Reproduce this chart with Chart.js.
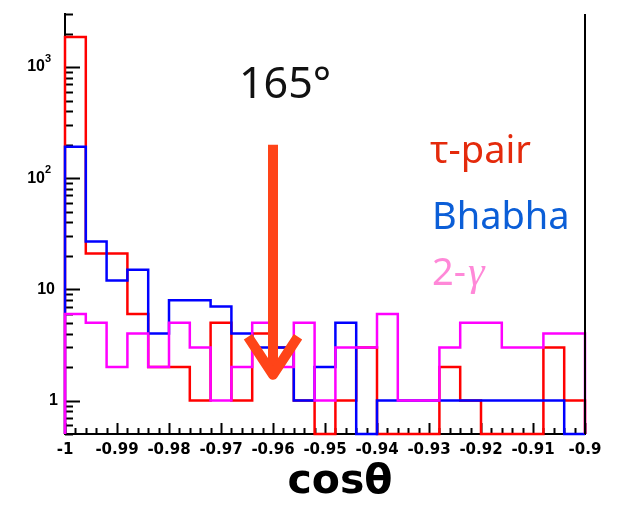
<!DOCTYPE html>
<html>
<head>
<meta charset="utf-8">
<title>cos theta</title>
<script src="https://cdn.jsdelivr.net/npm/chart.js@4.4.0/dist/chart.umd.min.js"></script>
<style>
  body { margin: 0; background: #fff; }
  #wrap { width: 629px; height: 505px; position: relative; }
</style>
</head>
<body>
<div id="wrap"><canvas id="grafik"></canvas></div>
<script>
// bin edges in cos(theta): 25 bins, 0.004 wide
const binEdges = [-1, -0.996, -0.992, -0.988, -0.984, -0.98, -0.976, -0.972, -0.968, -0.964,
  -0.96, -0.956, -0.952, -0.948, -0.944, -0.94, -0.936, -0.932, -0.928, -0.924,
  -0.92, -0.916, -0.912, -0.908, -0.904, -0.9];

// entries per bin
const tauPair  = [1860, 21, 21, 6, 2, 2, 1, 5, 1, 4, 3, 1, 0, 1, 3, 0, 0, 0, 2, 1, 0, 0, 0, 3, 1];
const bhabha   = [192, 27, 12, 15, 4, 8, 8, 7, 4, 3, 3, 1, 2, 5, 0, 1, 1, 1, 1, 1, 1, 1, 1, 1, 0];
const twoGamma = [6, 5, 2, 4, 2, 5, 3, 1, 2, 5, 2, 5, 1, 3, 3, 6, 1, 1, 3, 5, 5, 3, 3, 4, 4];

const xTicks = [-1, -0.99, -0.98, -0.97, -0.96, -0.95, -0.94, -0.93, -0.92, -0.91, -0.9];
const yTicks = [1, 10, 100, 1000];
const yTickBase = ['1', '10', '10', '10'];
const yTickExp = ['', '', '2', '3'];

const Y_MIN = 0.5;
const Y_MAX = 3000;

// cut position marked by the arrow
const cutX = -0.96;
const arrowTop = 200;
const arrowTip = 1.6;

// empty bins sit on the bottom of the log axis
function histPoints(counts) {
  const pts = [{ x: binEdges[0], y: Y_MIN }];
  counts.forEach((c, i) => pts.push({ x: binEdges[i], y: c > 0 ? c : Y_MIN }));
  pts.push({ x: binEdges[binEdges.length - 1], y: Y_MIN });
  return pts;
}

function garis(ctx, x1, y1, x2, y2) {
  ctx.beginPath();
  ctx.moveTo(x1, y1);
  ctx.lineTo(x2, y2);
  ctx.stroke();
}

const hiasan = {
  id: 'hiasan',
  beforeDatasetsDraw(chart) {
    const { ctx, chartArea: a, scales: { x, y } } = chart;
    ctx.save();
    ctx.strokeStyle = '#000';
    ctx.lineWidth = 2;
    // x ticks pointing into the frame
    for (let k = 0; k <= 50; k++) {
      const v = -1 + k * 0.002;
      const px = Math.round(x.getPixelForValue(v)) + 0.5;
      const len = k % 5 === 0 ? 11 : 6;
      garis(ctx, px, a.bottom, px, a.bottom - len);
    }
    // y ticks, log decades
    [0.1, 1, 10, 100, 1000].forEach(d => {
      for (let m = 1; m <= 9; m++) {
        const v = m * d;
        if (v < Y_MIN || v > Y_MAX) continue;
        const py = Math.round(y.getPixelForValue(v)) + 0.5;
        garis(ctx, a.left, py, a.left + (m === 1 ? 15 : 8), py);
      }
    });

    // y labels with exponents, right aligned
    ctx.fillStyle = '#000';
    ctx.textBaseline = 'middle';
    ctx.textAlign = 'right';
    yTicks.forEach((v, i) => {
      const py = y.getPixelForValue(v);
      if (yTickExp[i]) {
        ctx.font = 'bold 11px "Liberation Sans"';
        ctx.fillText(yTickExp[i], a.left - 14, py - 8);
        ctx.font = 'bold 16px "Liberation Sans"';
        ctx.fillText(yTickBase[i], a.left - 20, py);
      } else {
        ctx.font = 'bold 16px "Liberation Sans"';
        ctx.fillText(yTickBase[i], a.left - (v === 1 ? 7 : 10), py);
      }
    });

    // axis title
    ctx.textAlign = 'center';
    ctx.textBaseline = 'alphabetic';
    ctx.font = 'bold 41px "DejaVu Sans"';
    ctx.fillText('cosθ', 340, 493);
    ctx.restore();
  },
  afterDatasetsDraw(chart) {
    const { ctx, chartArea: a, scales: { x, y } } = chart;
    ctx.save();
    // right side of the frame
    ctx.strokeStyle = '#000';
    ctx.lineWidth = 2;
    garis(ctx, a.right, a.top, a.right, a.bottom);

    // arrow at the cut
    const ax = x.getPixelForValue(cutX);
    const top = y.getPixelForValue(arrowTop);
    const tip = y.getPixelForValue(arrowTip);
    ctx.strokeStyle = '#ff4418';
    ctx.lineWidth = 10;
    ctx.lineCap = 'butt';
    garis(ctx, ax, top, ax, tip - 8);
    ctx.lineJoin = 'round';
    ctx.beginPath();
    ctx.moveTo(ax - 25, tip - 41);
    ctx.lineTo(ax, tip - 3);
    ctx.lineTo(ax + 25, tip - 41);
    ctx.stroke();

    // texts
    ctx.textBaseline = 'alphabetic';
    ctx.textAlign = 'left';
    ctx.fillStyle = '#111';
    ctx.font = '43px "Noto Sans"';
    ctx.fillText('165°', 239, 98);

    ctx.font = '38px "Noto Sans"';
    ctx.fillStyle = '#e42a0c';
    ctx.fillText('τ-pair', 430, 163);
    ctx.fillStyle = '#0b5ed7';
    ctx.fillText('Bhabha', 432, 229);
    ctx.fillStyle = '#ff88d8';
    ctx.fillText('2-', 432, 285);
    ctx.font = 'italic 42px "Liberation Serif"';
    ctx.fillText('γ', 468, 285);
    ctx.restore();
  }
};

function dataset(label, counts, color, order) {
  return {
    label,
    data: histPoints(counts),
    borderColor: color,
    borderWidth: 2.5,
    pointRadius: 0,
    stepped: true,
    fill: false,
    clip: false,
    order
  };
}

const ctx = document.getElementById('grafik').getContext('2d');
window.grafik = new Chart(ctx, {
  type: 'line',
  data: {
    datasets: [
      dataset('τ-pair', tauPair, '#ff0000', 3),
      dataset('Bhabha', bhabha, '#0000ff', 2),
      dataset('2-γ', twoGamma, '#ff00ff', 1)
    ]
  },
  options: {
    responsive: true,
    maintainAspectRatio: false,
    animation: false,
    layout: { padding: { left: 0, top: 14, right: 44, bottom: 0 } },
    plugins: { legend: { display: false }, tooltip: { enabled: false } },
    scales: {
      x: {
        type: 'linear',
        min: -1,
        max: -0.9,
        afterFit: s => { s.height = 71; },
        afterBuildTicks: s => { s.ticks = xTicks.map(v => ({ value: v })); },
        grid: { display: false, drawTicks: false },
        border: { display: true, color: '#000', width: 2 },
        ticks: {
          autoSkip: false,
          maxRotation: 0,
          padding: 7,
          color: '#000',
          font: { family: 'DejaVu Sans', weight: 'bold', size: 15 },
          callback: v => String(+v.toFixed(2))
        }
      },
      y: {
        type: 'logarithmic',
        min: Y_MIN,
        max: Y_MAX,
        afterFit: s => { s.width = 65; },
        afterBuildTicks: s => { s.ticks = yTicks.map(v => ({ value: v })); },
        grid: { display: false, drawTicks: false },
        border: { display: true, color: '#000', width: 2 },
        ticks: { display: false }
      }
    }
  },
  plugins: [hiasan]
});
</script>
</body>
</html>
